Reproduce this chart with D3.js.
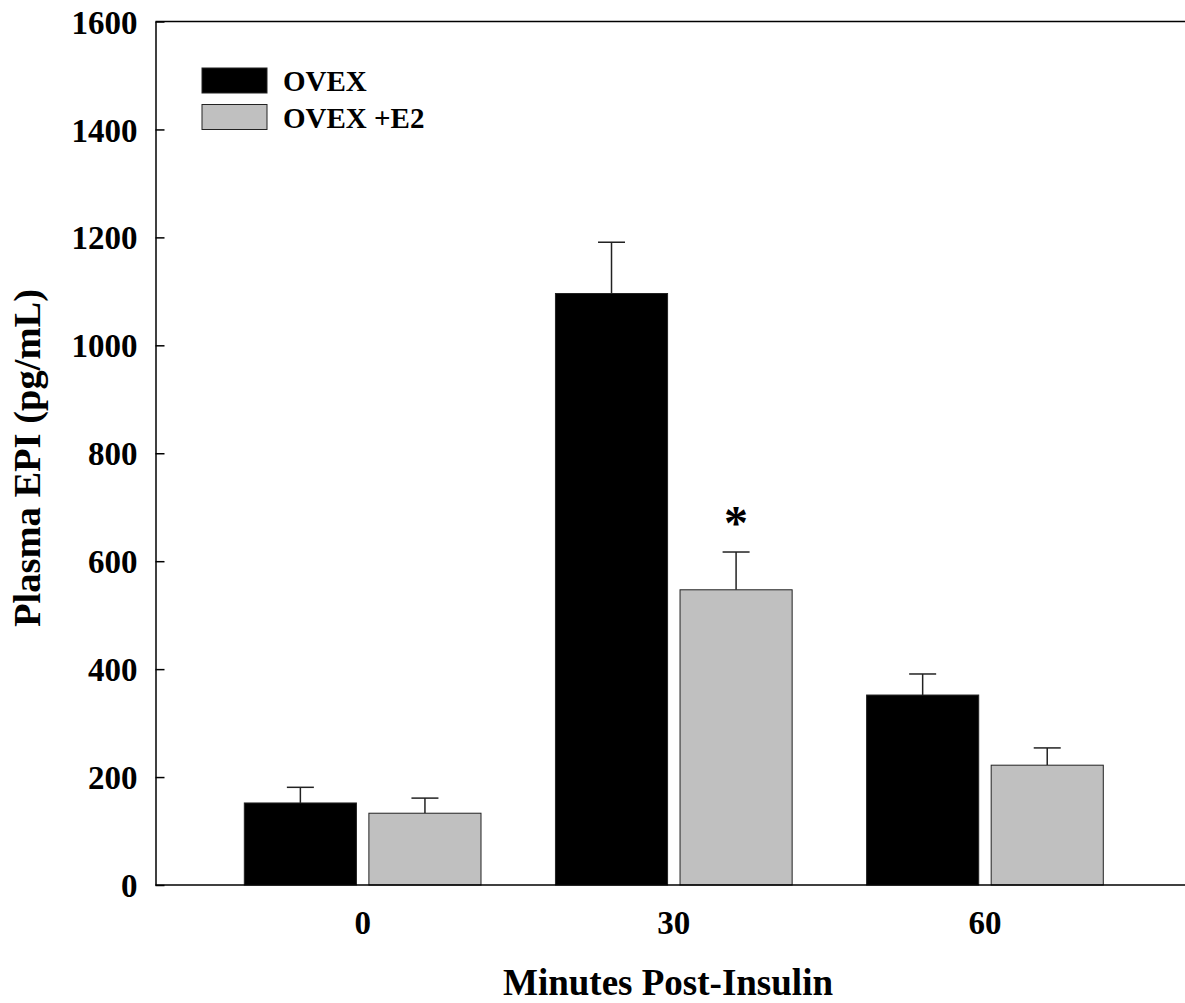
<!DOCTYPE html>
<html>
<head>
<meta charset="utf-8">
<script src="https://cdn.jsdelivr.net/npm/d3@7"></script>
<style>
  html, body { margin: 0; padding: 0; background: #fff; }
  svg { display: block; }
  text { font-family: "Liberation Serif", "Times New Roman", serif; font-weight: bold; fill: #000; }
</style>
</head>
<body>
<svg id="chart" width="1185" height="1003"></svg>
<script>
// ---- data ----
const categories = ["0", "30", "60"];
const seriesNames = ["OVEX", "OVEX +E2"];
const ovexValues = [152, 1096, 352];
const ovexErrors = [29, 95, 39];
const e2Values = [133, 547, 222];
const e2Errors = [28, 70, 32];
const yTicks = [0, 200, 400, 600, 800, 1000, 1200, 1400, 1600];
const significant = [false, true, false]; // asterisk over OVEX +E2

const colors = ["#000000", "#c0c0c0"];

const svg = d3.select("#chart");

const plotLeft = 155.5, plotRight = 1185, plotTop = 21.5, plotBottom = 885;

const y = d3.scaleLinear().domain([0, 1600]).range([plotBottom, plotTop]);
const x0 = d3.scaleBand().domain(categories).range([207.1, 1140.5]).paddingInner(0.2393).paddingOuter(0.1196);
const x1 = d3.scaleBand().domain(seriesNames).range([0, x0.bandwidth()]).paddingInner(0.1);

const rows = categories.map((c, i) => ({
  cat: c,
  vals: [
    { s: seriesNames[0], v: ovexValues[i], e: ovexErrors[i], color: colors[0], star: false },
    { s: seriesNames[1], v: e2Values[i], e: e2Errors[i], color: colors[1], star: significant[i] }
  ]
}));

// bars
const g = svg.append("g");
const grp = g.selectAll("g.grp").data(rows).join("g")
  .attr("transform", d => `translate(${x0(d.cat)},0)`);

// error bars (upper only)
grp.selectAll("line.err").data(d => d.vals).join("line")
  .attr("x1", d => x1(d.s) + x1.bandwidth() / 2)
  .attr("x2", d => x1(d.s) + x1.bandwidth() / 2)
  .attr("y1", d => y(d.v))
  .attr("y2", d => y(d.v + d.e))
  .attr("stroke", "#222").attr("stroke-width", 1.5);
grp.selectAll("line.cap").data(d => d.vals).join("line")
  .attr("x1", d => x1(d.s) + x1.bandwidth() / 2 - 13.5)
  .attr("x2", d => x1(d.s) + x1.bandwidth() / 2 + 13.5)
  .attr("y1", d => y(d.v + d.e))
  .attr("y2", d => y(d.v + d.e))
  .attr("stroke", "#222").attr("stroke-width", 1.5);

grp.selectAll("rect").data(d => d.vals).join("rect")
  .attr("x", d => x1(d.s))
  .attr("width", x1.bandwidth())
  .attr("y", d => y(d.v))
  .attr("height", d => y(0) - y(d.v))
  .attr("fill", d => d.color)
  .attr("stroke", "#222").attr("stroke-width", 1);

// asterisk
grp.selectAll("text.star").data(d => d.vals.filter(v => v.star)).join("text")
  .attr("class", "star")
  .attr("x", d => x1(d.s) + x1.bandwidth() / 2)
  .attr("y", d => y(d.v + d.e) - 13)
  .attr("text-anchor", "middle")
  .style("font-size", "48px")
  .text("*");

// axes frame lines
svg.append("line").attr("x1", plotLeft).attr("x2", plotRight).attr("y1", plotTop).attr("y2", plotTop)
  .attr("stroke", "#000").attr("stroke-width", 1.5);
svg.append("line").attr("x1", plotLeft).attr("x2", plotRight).attr("y1", plotBottom).attr("y2", plotBottom)
  .attr("stroke", "#000").attr("stroke-width", 1.5);

// y axis
const yAxis = d3.axisLeft(y).tickValues(yTicks).tickSizeInner(-9).tickSizeOuter(0).tickPadding(18).tickFormat(d3.format("d"));
const yg = svg.append("g").attr("transform", `translate(${plotLeft},0)`).call(yAxis);
yg.select(".domain").attr("stroke", "#000").attr("stroke-width", 1.5);
yg.selectAll(".tick line").attr("stroke", "#000").attr("stroke-width", 1.5);
yg.selectAll(".tick text").style("font-family", "'Liberation Serif', serif").style("font-weight", "bold")
  .style("font-size", "33px").attr("fill", "#000").attr("dy", "0.35em");

// x axis (labels only)
const xAxis = d3.axisBottom(x0).tickSize(0).tickPadding(26);
const xg = svg.append("g").attr("transform", `translate(0,${plotBottom})`).call(xAxis);
xg.select(".domain").remove();
xg.selectAll(".tick text").style("font-family", "'Liberation Serif', serif").style("font-weight", "bold")
  .style("font-size", "33px").attr("fill", "#000");

// axis titles
svg.append("text")
  .attr("x", 668).attr("y", 995)
  .attr("text-anchor", "middle")
  .style("font-size", "37px")
  .text("Minutes Post-Insulin");
svg.append("text")
  .attr("transform", "translate(40,458) rotate(-90)")
  .attr("text-anchor", "middle")
  .style("font-size", "38.5px")
  .text("Plasma EPI (pg/mL)");

// legend
const legend = svg.append("g").attr("transform", "translate(202,68)");
const li = legend.selectAll("g").data(seriesNames).join("g")
  .attr("transform", (d, i) => `translate(0,${i * 36.5})`);
li.append("rect").attr("width", 65).attr("height", 25)
  .attr("fill", (d, i) => colors[i]).attr("stroke", "#222").attr("stroke-width", 1);
li.append("text").attr("x", 81).attr("y", 23)
  .style("font-size", "29px")
  .text(d => d);
</script>
</body>
</html>
